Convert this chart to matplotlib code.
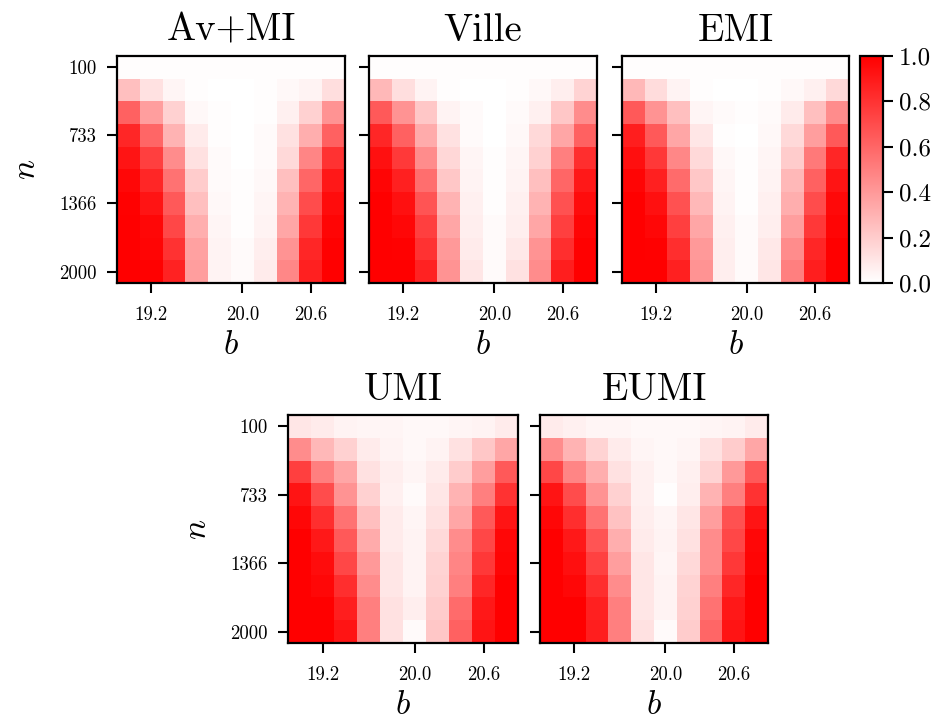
import numpy as np
import matplotlib
matplotlib.use('Agg')
import matplotlib.pyplot as plt
from matplotlib.colors import LinearSegmentedColormap


# Heatmaps of detection rate over the grid of b (columns) and n (rows)

plt.rcParams['font.family'] = ['cmr10']
plt.rcParams['mathtext.fontset'] = 'cm'
plt.rcParams['axes.unicode_minus'] = False

b_values = [19.0, 19.2, 19.4, 19.6, 19.8, 20.0, 20.2, 20.4, 20.6, 20.8]
n_values = [100, 311, 522, 733, 944, 1155, 1366, 1577, 1788, 2000]

b_ticks = [19.2, 20.0, 20.6]
b_ticklabels = ['19.2', '20.0', '20.6']
n_ticks = [100, 733, 1366, 2000]
n_ticklabels = ['100', '733', '1366', '2000']

titles = ['Av+MI', 'Ville', 'EMI', 'UMI', 'EUMI']

av_mi = [
    [0.01, 0.01, 0.01, 0.01, 0.01, 0.01, 0.01, 0.01, 0.01, 0.01],
    [0.25, 0.12, 0.04, 0.01, 0.00, 0.00, 0.01, 0.03, 0.05, 0.13],
    [0.62, 0.38, 0.18, 0.03, 0.01, 0.00, 0.01, 0.06, 0.18, 0.42],
    [0.85, 0.60, 0.30, 0.08, 0.01, 0.00, 0.02, 0.12, 0.32, 0.62],
    [0.92, 0.75, 0.45, 0.12, 0.02, 0.00, 0.02, 0.15, 0.48, 0.80],
    [0.97, 0.85, 0.55, 0.20, 0.02, 0.01, 0.03, 0.25, 0.60, 0.90],
    [0.99, 0.92, 0.65, 0.25, 0.03, 0.01, 0.04, 0.30, 0.70, 0.95],
    [1.00, 0.97, 0.72, 0.32, 0.04, 0.01, 0.05, 0.35, 0.78, 0.98],
    [1.00, 0.98, 0.80, 0.37, 0.05, 0.02, 0.07, 0.42, 0.85, 0.99],
    [1.00, 0.99, 0.86, 0.38, 0.05, 0.02, 0.08, 0.47, 0.87, 1.00],
]

ville = [
    [0.01, 0.01, 0.01, 0.01, 0.01, 0.01, 0.01, 0.01, 0.01, 0.01],
    [0.28, 0.13, 0.05, 0.01, 0.00, 0.00, 0.01, 0.03, 0.07, 0.17],
    [0.65, 0.42, 0.22, 0.05, 0.02, 0.00, 0.02, 0.06, 0.22, 0.45],
    [0.85, 0.62, 0.33, 0.12, 0.02, 0.00, 0.03, 0.15, 0.35, 0.62],
    [0.93, 0.77, 0.45, 0.16, 0.04, 0.01, 0.04, 0.18, 0.50, 0.82],
    [0.98, 0.87, 0.57, 0.22, 0.05, 0.01, 0.05, 0.25, 0.60, 0.90],
    [1.00, 0.93, 0.67, 0.30, 0.06, 0.01, 0.06, 0.30, 0.68, 0.95],
    [1.00, 0.97, 0.75, 0.35, 0.07, 0.02, 0.07, 0.35, 0.75, 0.98],
    [1.00, 0.99, 0.80, 0.40, 0.08, 0.02, 0.09, 0.42, 0.82, 0.99],
    [1.00, 1.00, 0.86, 0.42, 0.10, 0.02, 0.12, 0.45, 0.88, 1.00],
]

emi = [
    [0.01, 0.01, 0.01, 0.01, 0.01, 0.01, 0.01, 0.01, 0.01, 0.01],
    [0.28, 0.14, 0.05, 0.01, 0.00, 0.00, 0.01, 0.03, 0.06, 0.15],
    [0.65, 0.42, 0.25, 0.04, 0.02, 0.01, 0.02, 0.08, 0.25, 0.45],
    [0.88, 0.65, 0.35, 0.10, 0.01, 0.00, 0.03, 0.15, 0.38, 0.65],
    [0.94, 0.78, 0.47, 0.15, 0.03, 0.01, 0.04, 0.20, 0.52, 0.85],
    [0.98, 0.87, 0.58, 0.22, 0.04, 0.01, 0.05, 0.28, 0.62, 0.92],
    [1.00, 0.93, 0.68, 0.28, 0.05, 0.01, 0.06, 0.32, 0.70, 0.96],
    [1.00, 0.97, 0.75, 0.35, 0.06, 0.02, 0.07, 0.38, 0.78, 0.98],
    [1.00, 0.99, 0.82, 0.40, 0.07, 0.02, 0.09, 0.45, 0.85, 1.00],
    [1.00, 1.00, 0.87, 0.42, 0.07, 0.02, 0.10, 0.50, 0.88, 1.00],
]

umi = [
    [0.10, 0.08, 0.05, 0.04, 0.04, 0.03, 0.03, 0.04, 0.05, 0.08],
    [0.45, 0.28, 0.18, 0.08, 0.05, 0.03, 0.05, 0.12, 0.22, 0.35],
    [0.75, 0.50, 0.35, 0.12, 0.07, 0.04, 0.08, 0.20, 0.38, 0.65],
    [0.92, 0.70, 0.42, 0.18, 0.06, 0.02, 0.10, 0.30, 0.50, 0.80],
    [0.97, 0.82, 0.55, 0.25, 0.08, 0.04, 0.12, 0.35, 0.65, 0.92],
    [1.00, 0.90, 0.65, 0.33, 0.08, 0.05, 0.15, 0.45, 0.72, 0.97],
    [1.00, 0.95, 0.72, 0.40, 0.10, 0.05, 0.17, 0.48, 0.78, 0.98],
    [1.00, 0.97, 0.82, 0.45, 0.10, 0.05, 0.18, 0.50, 0.85, 1.00],
    [1.00, 1.00, 0.88, 0.50, 0.12, 0.07, 0.20, 0.58, 0.90, 1.00],
    [1.00, 1.00, 0.92, 0.50, 0.12, 0.02, 0.22, 0.62, 0.92, 1.00],
]

eumi = [
    [0.08, 0.06, 0.04, 0.04, 0.03, 0.03, 0.03, 0.04, 0.05, 0.08],
    [0.45, 0.30, 0.17, 0.08, 0.04, 0.03, 0.04, 0.12, 0.20, 0.35],
    [0.72, 0.48, 0.32, 0.12, 0.06, 0.03, 0.06, 0.17, 0.40, 0.65],
    [0.92, 0.70, 0.42, 0.18, 0.06, 0.01, 0.07, 0.30, 0.50, 0.80],
    [0.97, 0.82, 0.55, 0.24, 0.07, 0.04, 0.10, 0.38, 0.68, 0.92],
    [1.00, 0.90, 0.67, 0.32, 0.08, 0.05, 0.12, 0.45, 0.72, 0.97],
    [1.00, 0.94, 0.74, 0.38, 0.10, 0.04, 0.15, 0.45, 0.78, 0.98],
    [1.00, 0.97, 0.82, 0.45, 0.10, 0.05, 0.17, 0.50, 0.85, 1.00],
    [1.00, 1.00, 0.87, 0.50, 0.10, 0.05, 0.18, 0.55, 0.90, 1.00],
    [1.00, 1.00, 0.88, 0.50, 0.12, 0.02, 0.20, 0.60, 0.92, 1.00],
]

panels = [av_mi, ville, emi, umi, eumi]

# axes positions in figure fractions (figure is 950 x 722 px)
W, H = 950.0, 722.0
boxes = [
    (117, 56, 228, 227),
    (369, 56, 228, 227),
    (622, 56, 227, 227),
    (288, 415, 230, 228),
    (540, 415, 228, 228),
]

cmap = LinearSegmentedColormap.from_list('white_red', ['#ffffff', '#ff0000'])

fig = plt.figure(figsize=(9.5, 7.22), dpi=100)

db = (b_values[1] - b_values[0]) / 2.0
dn = (n_values[-1] - n_values[0]) / (len(n_values) - 1) / 2.0
extent = [b_values[0] - db, b_values[-1] + db, n_values[-1] + dn, n_values[0] - dn]

im = None
for k in range(len(panels)):
    x0, y0, w, h = boxes[k]
    ax = fig.add_axes([x0 / W, 1 - (y0 + h) / H, w / W, h / H])
    im = ax.imshow(np.array(panels[k]), cmap=cmap, vmin=0, vmax=1,
                   extent=extent, aspect='auto', interpolation='nearest')
    ax.set_title(titles[k], fontsize=28, pad=11)
    ax.set_xticks(b_ticks)
    ax.set_xticklabels(b_ticklabels, fontsize=13.5)
    ax.set_yticks(n_ticks)
    ax.set_xlabel('$b$', fontsize=24, labelpad=5)
    if k == 0 or k == 3:
        ax.set_yticklabels(n_ticklabels, fontsize=13.5)
        ax.set_ylabel('$n$', fontsize=24, labelpad=13)
    else:
        ax.set_yticklabels([])
    ax.tick_params(axis='x', length=7.5, width=1.5, pad=9)
    ax.tick_params(axis='y', length=7.5, width=1.5, pad=7)
    for s in ax.spines.values():
        s.set_linewidth(1.6)

cax = fig.add_axes([860 / W, 1 - 283 / H, 23 / W, 227 / H])
cb = fig.colorbar(im, cax=cax)
cb.set_ticks([0.0, 0.2, 0.4, 0.6, 0.8, 1.0])
cb.set_ticklabels(['0.0', '0.2', '0.4', '0.6', '0.8', '1.0'])
cb.ax.tick_params(labelsize=18, length=7.5, width=1.5, pad=4)
cb.outline.set_linewidth(1.6)

fig.savefig('out.png', dpi=100)
